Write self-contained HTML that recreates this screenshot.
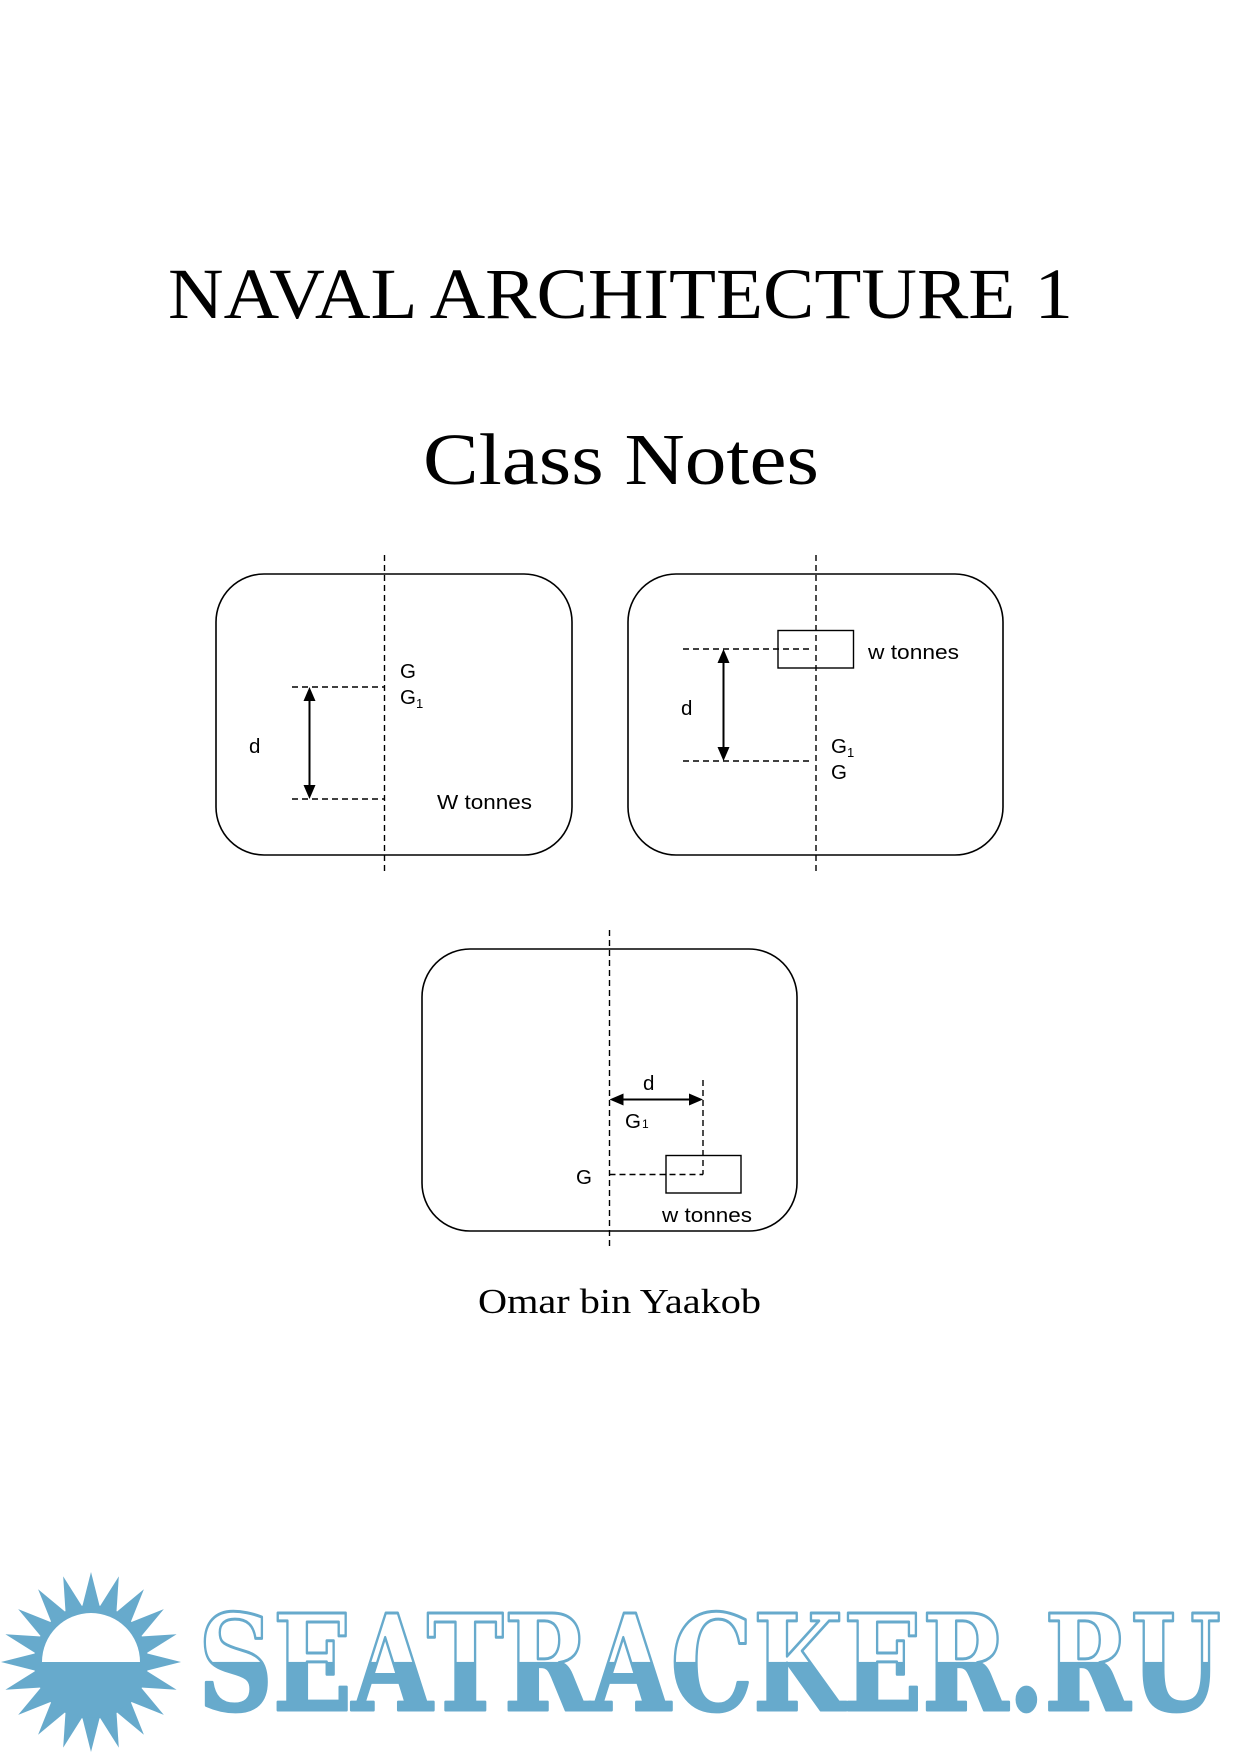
<!DOCTYPE html>
<html>
<head>
<meta charset="utf-8">
<style>
  html, body { margin: 0; padding: 0; background: #ffffff; }
  svg { display: block; }
</style>
</head>
<body>
<svg xmlns="http://www.w3.org/2000/svg" width="1240" height="1753" viewBox="0 0 1240 1753">
  <defs>
    <linearGradient id="wm" gradientUnits="userSpaceOnUse" x1="0" y1="1612" x2="0" y2="1712">
      <stop offset="0" stop-color="#ffffff"/>
      <stop offset="0.497" stop-color="#ffffff"/>
      <stop offset="0.5" stop-color="#67aacc"/>
      <stop offset="1" stop-color="#67aacc"/>
    </linearGradient>
    <polygon id="ray" points="0,-90 8.8,-55.3 -8.8,-55.3" fill="#67aacc"/>
  </defs>

  <rect width="1240" height="1753" fill="#ffffff"/>

  <!-- Titles -->
  <g font-family="'Liberation Serif', 'DejaVu Serif', serif" fill="#000">
    <text x="168" y="318" font-size="72" textLength="905" lengthAdjust="spacingAndGlyphs">NAVAL ARCHITECTURE 1</text>
    <text x="423" y="484" font-size="73" textLength="396" lengthAdjust="spacingAndGlyphs">Class Notes</text>
    <text x="478" y="1313" font-size="35" textLength="283" lengthAdjust="spacingAndGlyphs">Omar bin Yaakob</text>
  </g>

  <!-- Diagram 1 -->
  <g fill="none" stroke="#000">
    <rect x="216" y="574" width="356" height="281" rx="48" ry="48" stroke-width="1.6"/>
    <line x1="384.5" y1="555" x2="384.5" y2="875" stroke-width="1.4" stroke-dasharray="6 4"/>
    <line x1="292" y1="687" x2="384" y2="687" stroke-width="1.4" stroke-dasharray="6 4"/>
    <line x1="292" y1="799" x2="384" y2="799" stroke-width="1.4" stroke-dasharray="6 4"/>
    <line x1="309.5" y1="696" x2="309.5" y2="790" stroke-width="2"/>
  </g>
  <polygon points="309.5,687 303.5,701 315.5,701" fill="#000"/>
  <polygon points="309.5,799 303.5,785 315.5,785" fill="#000"/>
  <g font-family="'Liberation Sans', Arial, sans-serif" font-size="20.5" fill="#000">
    <text x="249" y="753">d</text>
    <text x="400" y="678">G</text>
    <text x="400" y="704">G</text>
    <text x="416" y="708" font-size="13">1</text>
    <text x="437" y="809" textLength="95" lengthAdjust="spacingAndGlyphs">W tonnes</text>
  </g>

  <!-- Diagram 2 -->
  <g fill="none" stroke="#000">
    <rect x="628" y="574" width="375" height="281" rx="48" ry="48" stroke-width="1.6"/>
    <rect x="778" y="630.5" width="75.5" height="37.5" stroke-width="1.4"/>
    <line x1="816" y1="555" x2="816" y2="875" stroke-width="1.4" stroke-dasharray="6 4"/>
    <line x1="683" y1="649" x2="811" y2="649" stroke-width="1.4" stroke-dasharray="6 4"/>
    <line x1="683" y1="761" x2="811" y2="761" stroke-width="1.4" stroke-dasharray="6 4"/>
    <line x1="723.5" y1="658" x2="723.5" y2="752" stroke-width="2"/>
  </g>
  <polygon points="723.5,649 717.5,663 729.5,663" fill="#000"/>
  <polygon points="723.5,761 717.5,747 729.5,747" fill="#000"/>
  <g font-family="'Liberation Sans', Arial, sans-serif" font-size="20.5" fill="#000">
    <text x="681" y="715">d</text>
    <text x="868" y="659" textLength="91" lengthAdjust="spacingAndGlyphs">w tonnes</text>
    <text x="831" y="753">G</text>
    <text x="847" y="757" font-size="13">1</text>
    <text x="831" y="779">G</text>
  </g>

  <!-- Diagram 3 -->
  <g fill="none" stroke="#000">
    <rect x="422" y="949" width="375" height="282" rx="48" ry="48" stroke-width="1.6"/>
    <rect x="666" y="1155.5" width="75" height="37.5" stroke-width="1.4"/>
    <line x1="609.5" y1="930" x2="609.5" y2="1250" stroke-width="1.4" stroke-dasharray="6 4"/>
    <line x1="703" y1="1080" x2="703" y2="1174.5" stroke-width="1.4" stroke-dasharray="6 4"/>
    <line x1="609.5" y1="1174.5" x2="703" y2="1174.5" stroke-width="1.4" stroke-dasharray="6 4"/>
    <line x1="618" y1="1099.5" x2="694" y2="1099.5" stroke-width="2"/>
  </g>
  <polygon points="609.5,1099.5 623.5,1093.5 623.5,1105.5" fill="#000"/>
  <polygon points="703,1099.5 689,1093.5 689,1105.5" fill="#000"/>
  <g font-family="'Liberation Sans', Arial, sans-serif" font-size="20.5" fill="#000">
    <text x="643" y="1090">d</text>
    <text x="625" y="1128">G</text>
    <text x="642" y="1128" font-size="12">1</text>
    <text x="576" y="1184">G</text>
    <text x="662" y="1222" textLength="90" lengthAdjust="spacingAndGlyphs">w tonnes</text>
  </g>

  <!-- Watermark sun -->
  <g transform="translate(91,1662)">
    <circle r="57" fill="#67aacc"/>
    <use href="#ray" transform="rotate(0)"/>
    <use href="#ray" transform="rotate(18)"/>
    <use href="#ray" transform="rotate(36)"/>
    <use href="#ray" transform="rotate(54)"/>
    <use href="#ray" transform="rotate(72)"/>
    <use href="#ray" transform="rotate(90)"/>
    <use href="#ray" transform="rotate(108)"/>
    <use href="#ray" transform="rotate(126)"/>
    <use href="#ray" transform="rotate(144)"/>
    <use href="#ray" transform="rotate(162)"/>
    <use href="#ray" transform="rotate(180)"/>
    <use href="#ray" transform="rotate(198)"/>
    <use href="#ray" transform="rotate(216)"/>
    <use href="#ray" transform="rotate(234)"/>
    <use href="#ray" transform="rotate(252)"/>
    <use href="#ray" transform="rotate(270)"/>
    <use href="#ray" transform="rotate(288)"/>
    <use href="#ray" transform="rotate(306)"/>
    <use href="#ray" transform="rotate(324)"/>
    <use href="#ray" transform="rotate(342)"/>
    <path d="M-49,0 A49,49 0 0 1 49,0 Z" fill="#ffffff"/>
  </g>

  <!-- Watermark text -->
  <text x="198" y="1710" font-family="'DejaVu Serif', 'Liberation Serif', serif" font-weight="bold" font-size="133"
        textLength="1023" lengthAdjust="spacingAndGlyphs"
        fill="url(#wm)" stroke="#67aacc" stroke-width="3" stroke-linejoin="round">SEATRACKER.RU</text>
</svg>
</body>
</html>
